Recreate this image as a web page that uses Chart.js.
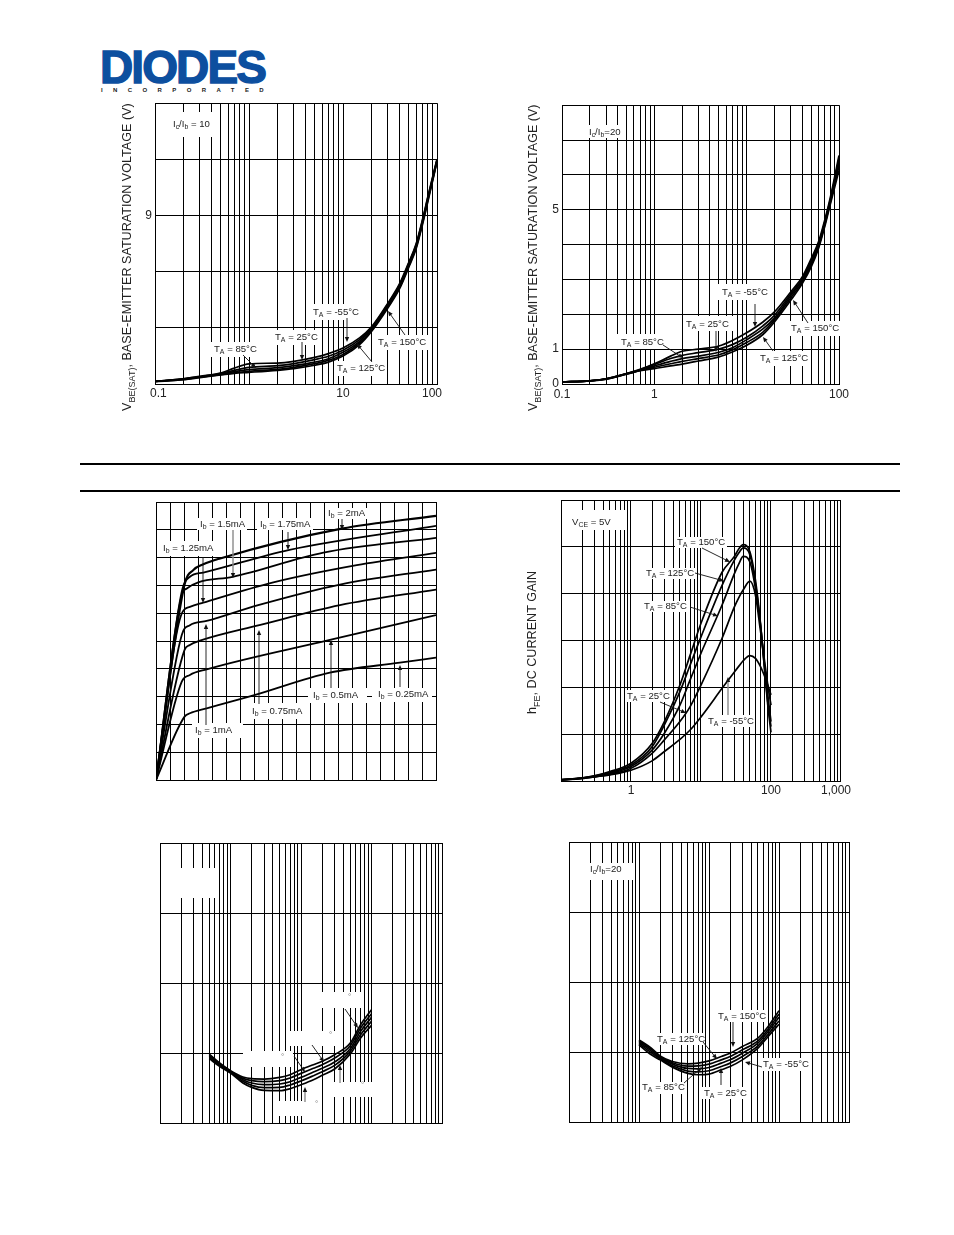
<!DOCTYPE html>
<html><head><meta charset="utf-8">
<script src="https://cdn.jsdelivr.net/npm/chart.js@4"></script>
<style>
html,body{margin:0;padding:0;background:#fff;width:954px;height:1235px;overflow:hidden}
canvas{position:absolute}
.rule{position:absolute;left:80px;width:820px;height:2px;background:#000}
#logo{position:absolute;left:100px;top:42px;font:bold 46px/50px "Liberation Sans";letter-spacing:-1.9px;color:#0d4f9f;-webkit-text-stroke:1.4px #0d4f9f}
#inc{position:absolute;left:101px;top:87px;font:bold 6px/7px "Liberation Sans";letter-spacing:10.4px;color:#222;white-space:nowrap}
</style></head><body>
<div id="logo">DIODES</div><div id="inc">INCORPORATED</div>
<div class="rule" style="top:463px"></div><div class="rule" style="top:490px"></div>
<canvas id="c1"></canvas><canvas id="c2"></canvas><canvas id="c3"></canvas>
<canvas id="c4"></canvas><canvas id="c5"></canvas><canvas id="c6"></canvas>
<script>
// ---------- gridline values ----------
const decades3 = [0.1,0.2,0.3,0.4,0.5,0.6,0.7,0.8,0.9,1,2,3,4,5,6,7,8,9,10,20,30,40,50,60,70,80,90,100];
const decades4 = [0.1,0.2,0.3,0.4,0.5,0.6,0.7,0.8,0.9,1,2,3,4,5,6,7,8,9,10,20,30,40,50,60,70,80,90,100,200,300,400,500,600,700,800,900,1000];
const seriesNames = ['T_A = -55°C','T_A = 25°C','T_A = 85°C','T_A = 125°C','T_A = 150°C'];

// ---------- chart 1: VBE(SAT), Ic/Ib = 10 ----------
const c1Ic = [0.1,0.2,0.3,0.5,0.7,1,2,3,5,7,10,15,20,30,40,50,60,70,80,100];
const c1m55 = [0.14,0.27,0.41,0.59,0.85,1.07,1.12,1.21,1.42,1.62,1.92,2.46,3.04,4.32,5.36,6.49,7.49,8.77,10.02,12.01];
const c1p25 = [0.14,0.27,0.39,0.57,0.73,0.89,0.98,1.09,1.30,1.48,1.80,2.37,2.99,4.27,5.30,6.44,7.44,8.72,9.96,11.98];
const c1p85 = [0.14,0.25,0.37,0.53,0.66,0.77,0.87,0.98,1.17,1.35,1.69,2.28,2.94,4.20,5.23,6.37,7.37,8.65,9.89,11.94];
const c1p125 = [0.14,0.25,0.36,0.50,0.60,0.68,0.78,0.89,1.09,1.26,1.58,2.19,2.86,4.13,5.16,6.30,7.30,8.58,9.82,11.90];
const c1p150 = [0.12,0.23,0.34,0.48,0.57,0.62,0.73,0.82,1.00,1.17,1.49,2.10,2.79,4.06,5.09,6.23,7.22,8.51,9.75,11.87];

// ---------- chart 2: VBE(SAT), Ic/Ib = 20 ----------
const c2Ic = [0.1,0.2,0.3,0.5,0.7,1,1.5,2,3,5,7,10,15,20,30,40,50,60,70,80,100];
const c2m55 = [0.06,0.09,0.15,0.30,0.42,0.58,0.80,0.94,1.00,1.09,1.25,1.47,1.78,2.07,2.64,3.07,3.60,4.08,4.70,5.32,6.56];
const c2p25 = [0.06,0.09,0.15,0.30,0.41,0.56,0.73,0.82,0.90,1.00,1.13,1.34,1.67,1.97,2.58,3.01,3.54,4.02,4.64,5.26,6.47];
const c2p85 = [0.06,0.09,0.15,0.29,0.40,0.52,0.65,0.73,0.80,0.91,1.04,1.27,1.58,1.89,2.53,2.98,3.48,3.98,4.60,5.22,6.37];
const c2p125 = [0.06,0.09,0.14,0.29,0.39,0.48,0.58,0.65,0.73,0.84,0.98,1.19,1.49,1.84,2.47,2.93,3.43,3.93,4.56,5.18,6.26];
const c2p150 = [0.06,0.09,0.14,0.28,0.38,0.44,0.52,0.57,0.66,0.78,0.92,1.11,1.42,1.78,2.40,2.88,3.36,3.89,4.51,5.13,6.13];

// ---------- chart 3: output characteristics ----------
const c3Vce025 = [0,1.02,1.21,1.81,3.48,6.21,8.71,10];
const c3Ic025 = [0,2.28,2.40,2.58,3.04,3.86,4.22,4.40];
const c3Vce050 = [0,0.92,1.21,1.81,6.21,10];
const c3Ic050 = [0,3.54,3.78,3.98,5.04,5.93];
const c3Vce075 = [0,1.02,1.21,1.57,3.69,6.57,10];
const c3Ic075 = [0,4.68,4.86,5.01,5.57,6.29,6.85];
const c3Vce100 = [0,0.92,1.21,1.81,3.65,6.57,10];
const c3Ic100 = [0,5.22,5.57,5.72,6.29,7.03,7.57];
const c3Vce125 = [0,0.92,1.21,1.69,4.19,7.17,10];
const c3Ic125 = [0,5.99,6.23,6.38,7.11,7.73,8.17];
const c3Vce150 = [0,0.92,1.10,1.51,2.74,5.98,10];
const c3Ic150 = [0,6.65,6.89,7.11,7.31,8.18,8.71];
const c3Vce175 = [0,0.92,1.21,1.69,4.73,10];
const c3Ic175 = [0,6.77,7.31,7.46,8.27,9.14];
const c3Vce200 = [0,1.02,1.33,1.69,2.29,6.63,10];
const c3Ic200 = [0,7.03,7.55,7.76,7.97,9.04,9.50];

// ---------- chart 4: hFE ----------
const c4Ic = [0.1,0.2,0.3,0.5,1,2,3,5,7,10,20,30,35,40,50,60,70,80,90,100];
const c4m55 = [3,6,9,13,23,43,63,89,109,137,198,233,246,257,268,262,246,226,205,184];
const c4p25 = [3,5,9,14,27,59,88,127,159,205,305,372,393,408,427,397,326,262,205,162];
const c4p85 = [2,6,9,16,31,66,102,162,216,273,376,443,465,480,468,411,340,255,184,127];
const c4p125 = [2,6,11,18,34,73,120,191,248,308,418,472,488,498,483,422,340,248,169,116];
const c4p150 = [2,7,11,20,38,80,127,205,269,337,446,480,497,505,490,429,344,248,162,104];

// ---------- chart 5: VCE(SAT), labels blanked ----------
const c5Ic = [0.5,0.7,1,1.5,2,3,5,7,10,15,20,30,50,70,100];
const c5a = [98.5,85.7,74.7,65.7,63.3,62.8,65.2,69.0,76.2,83.3,88.1,97.6,114.2,140.4,161.8];
const c5b = [97.1,84.7,73.8,63.8,60.5,59.0,60.5,64.3,70.9,78.1,83.3,92.8,110.4,135.7,156.1];
const c5c = [95.7,83.3,73.3,61.9,57.1,54.7,55.7,59.0,65.2,72.8,78.1,87.1,106.1,130.9,150.9];
const c5d = [93.8,82.3,72.4,59.5,53.8,50.5,50.9,54.3,60.0,67.6,73.3,82.3,102.3,126.1,145.2];
const c5e = [91.9,80.9,71.4,57.1,50.9,46.6,46.2,49.0,54.7,61.9,68.1,77.1,98.5,121.4,139.5];

// ---------- chart 6: VCE(SAT), Ic/Ib = 20 ----------
const c6Ic = [1,1.5,2,3,5,7,10,15,20,30,50,70,100];
const c6p150 = [117.3,105.5,94.5,86.5,83.1,84.1,87.4,93.6,98.3,107.8,119.7,136.3,159.1];
const c6p125 = [115.9,103.6,93.1,84.6,79.8,80.3,82.7,88.8,93.6,103.1,115.9,132.5,154.4];
const c6p85 = [114,101.2,91.7,82.7,76.5,76,77.9,84.1,88.8,98.3,112.6,129.2,149.6];
const c6p25 = [112.1,98.8,90.3,80.3,72.7,71.7,73.2,79.3,84.1,93.6,108.8,125.4,144.4];
const c6m55 = [110.2,96,88.8,78.4,69.4,67.5,68.4,74.6,79.3,88.8,105.5,122.1,139.7];

// ---------- helpers ----------
const FONT = '"Liberation Sans"';
const T = (s)=>['T',['A'],' = '+s];
const I = (s)=>['I',['b'],' = '+s];

function rich(ctx,parts,x,y,size,color){
  ctx.fillStyle=color||'#222';ctx.textBaseline='middle';ctx.textAlign='left';
  for(const p of parts){
    const sub=Array.isArray(p),s=sub?p[0]:p,fs=sub?size*0.72:size;
    ctx.font=fs+'px '+FONT;
    ctx.fillText(s,x,y+(sub?size*0.32:0));
    x+=ctx.measureText(s).width;
  }
}
function arrow(ctx,a){
  const [x1,y1,x2,y2,gray]=a,col=gray?'#8a8a8a':'#111',th=Math.atan2(y2-y1,x2-x1);
  ctx.strokeStyle=col;ctx.fillStyle=col;ctx.lineWidth=gray?1.4:0.9;
  ctx.beginPath();ctx.moveTo(x1,y1);ctx.lineTo(x2-3*Math.cos(th),y2-3*Math.sin(th));ctx.stroke();
  ctx.fillStyle='#111';
  ctx.beginPath();ctx.moveTo(x2,y2);
  ctx.lineTo(x2-5*Math.cos(th)+2.2*Math.sin(th),y2-5*Math.sin(th)-2.2*Math.cos(th));
  ctx.lineTo(x2-5*Math.cos(th)-2.2*Math.sin(th),y2-5*Math.sin(th)+2.2*Math.cos(th));
  ctx.closePath();ctx.fill();
}
function series(xs,ys,w){return {data:xs.map((x,i)=>({x,y:ys[i]})),borderColor:'#000',borderWidth:w||1.7,pointRadius:0,cubicInterpolationMode:'monotone',fill:false};}

const ML=60,MR=20,MT=10,MB=30;
function make(id,rect,cfg){
  const [L,Tp,R,B]=rect,ox=L-ML,oy=Tp-MT;
  const el=document.getElementById(id);
  el.style.left=ox+'px';el.style.top=oy+'px';
  el.width=R-L+ML+MR;el.height=B-Tp+MT+MB;
  el.style.width=el.width+'px';el.style.height=el.height+'px';
  const grid={color:'#000',lineWidth:1,drawTicks:false};
  const border={color:'#000',width:1};
  const labels=cfg.labels||{};
  const notes={id:'notes',
    beforeDatasetsDraw(c){const x=c.ctx;x.save();x.translate(-ox,-oy);
      x.fillStyle='#fff';(cfg.masks||[]).forEach(m=>x.fillRect(m[0],m[1],m[2]-m[0],m[3]-m[1]));
      (cfg.notes||[]).forEach(n=>rich(x,n[0],n[1],n[2],9.6));
      (cfg.degrees||[]).forEach(d=>{rich(x,['°'],d[0],d[1],8,'#777');});
      x.restore();},
    afterDatasetsDraw(c){const x=c.ctx;x.save();x.translate(-ox,-oy);
      (cfg.arrows||[]).forEach(a=>arrow(x,a));
      if(cfg.title){const [p,tx,ty,fs]=cfg.title;x.translate(tx,ty);x.rotate(-Math.PI/2);rich(x,p,0,0,fs);}
      x.restore();}
  };
  return new Chart(el,{type:'line',
    data:{datasets:cfg.datasets},
    plugins:[notes],
    options:{responsive:false,animation:false,devicePixelRatio:1,
      layout:{padding:{top:MT,right:MR,left:0,bottom:0}},
      plugins:{legend:{display:false},title:{display:false},tooltip:{enabled:false}},
      scales:{
        x:{type:cfg.xType||'logarithmic',min:cfg.xMin,max:cfg.xMax,grid,border,
          afterBuildTicks(s){s.ticks=cfg.xGrid.map(value=>({value}));},
          afterFit(s){s.height=MB;},
          ticks:{display:!cfg.noTicks,autoSkip:false,maxRotation:0,minRotation:0,padding:cfg.xPad||2,color:'#222',font:{family:FONT,size:12},
            callback:v=>labels[v]??''}},
        y:{type:'linear',min:cfg.yMin,max:cfg.yMax,grid,border,
          afterBuildTicks(s){s.ticks=cfg.yGrid.map(value=>({value}));},
          afterFit(s){s.width=ML;},
          ticks:{display:!cfg.noTicks,autoSkip:false,padding:3,color:'#222',font:{family:FONT,size:12},
            callback:v=>(cfg.yLabels||{})[v]??''}}
      }}});
}

// ---------- charts ----------
make('c1',[155,103,437,384],{
  xMin:0.1,xMax:100,xGrid:decades3,labels:{0.1:'  0.1',10:'10',100:'100   '},
  yMin:0,yMax:15,yGrid:[0,3,6,9,12,15],yLabels:{9:'9'},
  datasets:[series(c1Ic,c1m55),series(c1Ic,c1p25),series(c1Ic,c1p85),series(c1Ic,c1p125),series(c1Ic,c1p150)],
  masks:[[168,112,220,137],[210,342,258,357],[272,330,320,345],[308,304,361,320],[334,361,387,376],[375,335,428,350]],
  notes:[[['I',['c'],'/I',['b'],' = 10'],173,124],[T('85°C'),214,349],[T('25°C'),275,337],[T('-55°C'),313,312],[T('125°C'),337,368],[T('150°C'),378,342]],
  arrows:[[243,355,256,368],[302,342,302,360],[347,318,347,342],[372,362,357,344],[405,335,388,311]],
  title:[['V',['BE(SAT)'],', BASE-EMITTER SATURATION VOLTAGE (V)'],128,411,12.6]
});
make('c2',[562,105,839,384],{
  xMin:0.1,xMax:100,xGrid:decades3,labels:{0.1:'0.1',1:'1',100:'100'},xPad:3,
  yMin:0,yMax:8,yGrid:[0,1,2,3,4,5,6,7,8],yLabels:{0:'0',1:'1',5:'5'},
  datasets:[series(c2Ic,c2m55),series(c2Ic,c2p25),series(c2Ic,c2p85),series(c2Ic,c2p125),series(c2Ic,c2p150)],
  masks:[[587,125,620,138],[616,334,667,349],[683,316,733,331],[718,284,770,300],[756,351,808,366],[788,321,840,336]],
  notes:[[['I',['c'],'/I',['b'],'=20'],589,132],[T('85°C'),621,342],[T('25°C'),686,324],[T('-55°C'),722,292],[T('125°C'),760,358],[T('150°C'),791,328]],
  arrows:[[663,345,683,358],[716,331,716,352],[755,304,755,327],[773,351,763,337],[808,323,793,300]],
  title:[['V',['BE(SAT)'],', BASE-EMITTER SATURATION VOLTAGE (V)'],534,411,12.55]
});
make('c3',[156,502,436,780],{
  xType:'linear',noTicks:true,xMin:0,xMax:10,xGrid:[0,0.5,1,1.5,2,2.5,3,3.5,4,4.5,5,5.5,6,6.5,7,7.5,8,8.5,9,9.5,10],
  yMin:0,yMax:10,yGrid:[0,1,2,3,4,5,6,7,8,9,10],
  datasets:[series(c3Vce025,c3Ic025,1.8),series(c3Vce050,c3Ic050,1.8),series(c3Vce075,c3Ic075,1.8),series(c3Vce100,c3Ic100,1.8),series(c3Vce125,c3Ic125,1.8),series(c3Vce150,c3Ic150,1.8),series(c3Vce175,c3Ic175,1.8),series(c3Vce200,c3Ic200,2.2)],
  masks:[[325,508,367,519],[197,518,247,530],[257,518,313,530],[157,541,215,556],[192,723,243,738],[248,703,307,719],[308,688,367,703],[372,688,432,702]],
  notes:[[I('2mA'),328,513],[I('1.5mA'),200,524],[I('1.75mA'),260,524],[I('1.25mA'),163,548],[I('1mA'),195,730],[I('0.75mA'),252,711],[I('0.5mA'),313,695],[I('0.25mA'),378,694]],
  arrows:[[342,519,342,530],[288,532,288,550],[233,530,233,578,1],[203,557,203,603],[206,725,206,624],[259,704,259,630],[331,688,331,640],[400,687,400,665]]
});
make('c4',[561,500,843,781],{
  xMin:0.1,xMax:1000,xGrid:decades4,labels:{1:'1',100:'100',1000:'1,000   '},
  yMin:0,yMax:600,yGrid:[0,100,200,300,400,500,600],
  datasets:[series(c4Ic,c4m55),series(c4Ic,c4p25),series(c4Ic,c4p85),series(c4Ic,c4p125),series(c4Ic,c4p150)],
  masks:[[567,510,625,530],[675,537,727,548],[643,568,695,579],[641,601,687,612],[626,690,671,702],[705,715,753,727]],
  notes:[[['V',['CE'],' = 5V'],572,522],[T('150°C'),677,542],[T('125°C'),646,573],[T('85°C'),644,606],[T('25°C'),627,696],[T('-55°C'),708,721]],
  arrows:[[702,548,730,562],[695,573,724,581],[690,607,718,616],[660,702,686,713],[728,715,728,677,1]],
  title:[['h',['FE'],', DC CURRENT GAIN'],533,714,12.6]
});
make('c5',[160,843,442,1123],{
  noTicks:true,xMin:0.1,xMax:1000,xGrid:decades4,
  yMin:0,yMax:400,yGrid:[0,100,200,300,400],
  datasets:[series(c5Ic,c5a),series(c5Ic,c5b),series(c5Ic,c5c),series(c5Ic,c5d),series(c5Ic,c5e)],
  masks:[[181,868,216,898],[322,992,363,1008],[290,1031,335,1046],[243,1051,293,1067],[333,1082,373,1097],[275,1101,322,1116]],
  degrees:[[348,997],[329,1035],[281,1057],[361,1085],[315,1104]],
  arrows:[[345,1009,358,1028],[312,1045,324,1062],[294,1056,305,1072],[340,1083,340,1065,1],[305,1102,305,1087,1]]
});
make('c6',[569,842,849,1122],{
  noTicks:true,xMin:0.1,xMax:1000,xGrid:decades4,
  yMin:0,yMax:400,yGrid:[0,100,200,300,400],
  datasets:[series(c6Ic,c6p150),series(c6Ic,c6p125),series(c6Ic,c6p85),series(c6Ic,c6p25),series(c6Ic,c6m55)],
  masks:[[588,863,634,880],[716,1010,768,1022],[655,1033,705,1045],[640,1082,686,1094],[702,1087,748,1099],[760,1058,811,1071]],
  notes:[[['I',['c'],'/I',['b'],'=20'],590,869],[T('150°C'),718,1016],[T('125°C'),657,1039],[T('85°C'),642,1087],[T('25°C'),704,1093],[T('-55°C'),763,1064]],
  arrows:[[733,1022,733,1047],[703,1042,717,1059],[684,1083,702,1067],[721,1085,721,1068],[762,1067,745,1062]]
});
</script>
</body></html>
